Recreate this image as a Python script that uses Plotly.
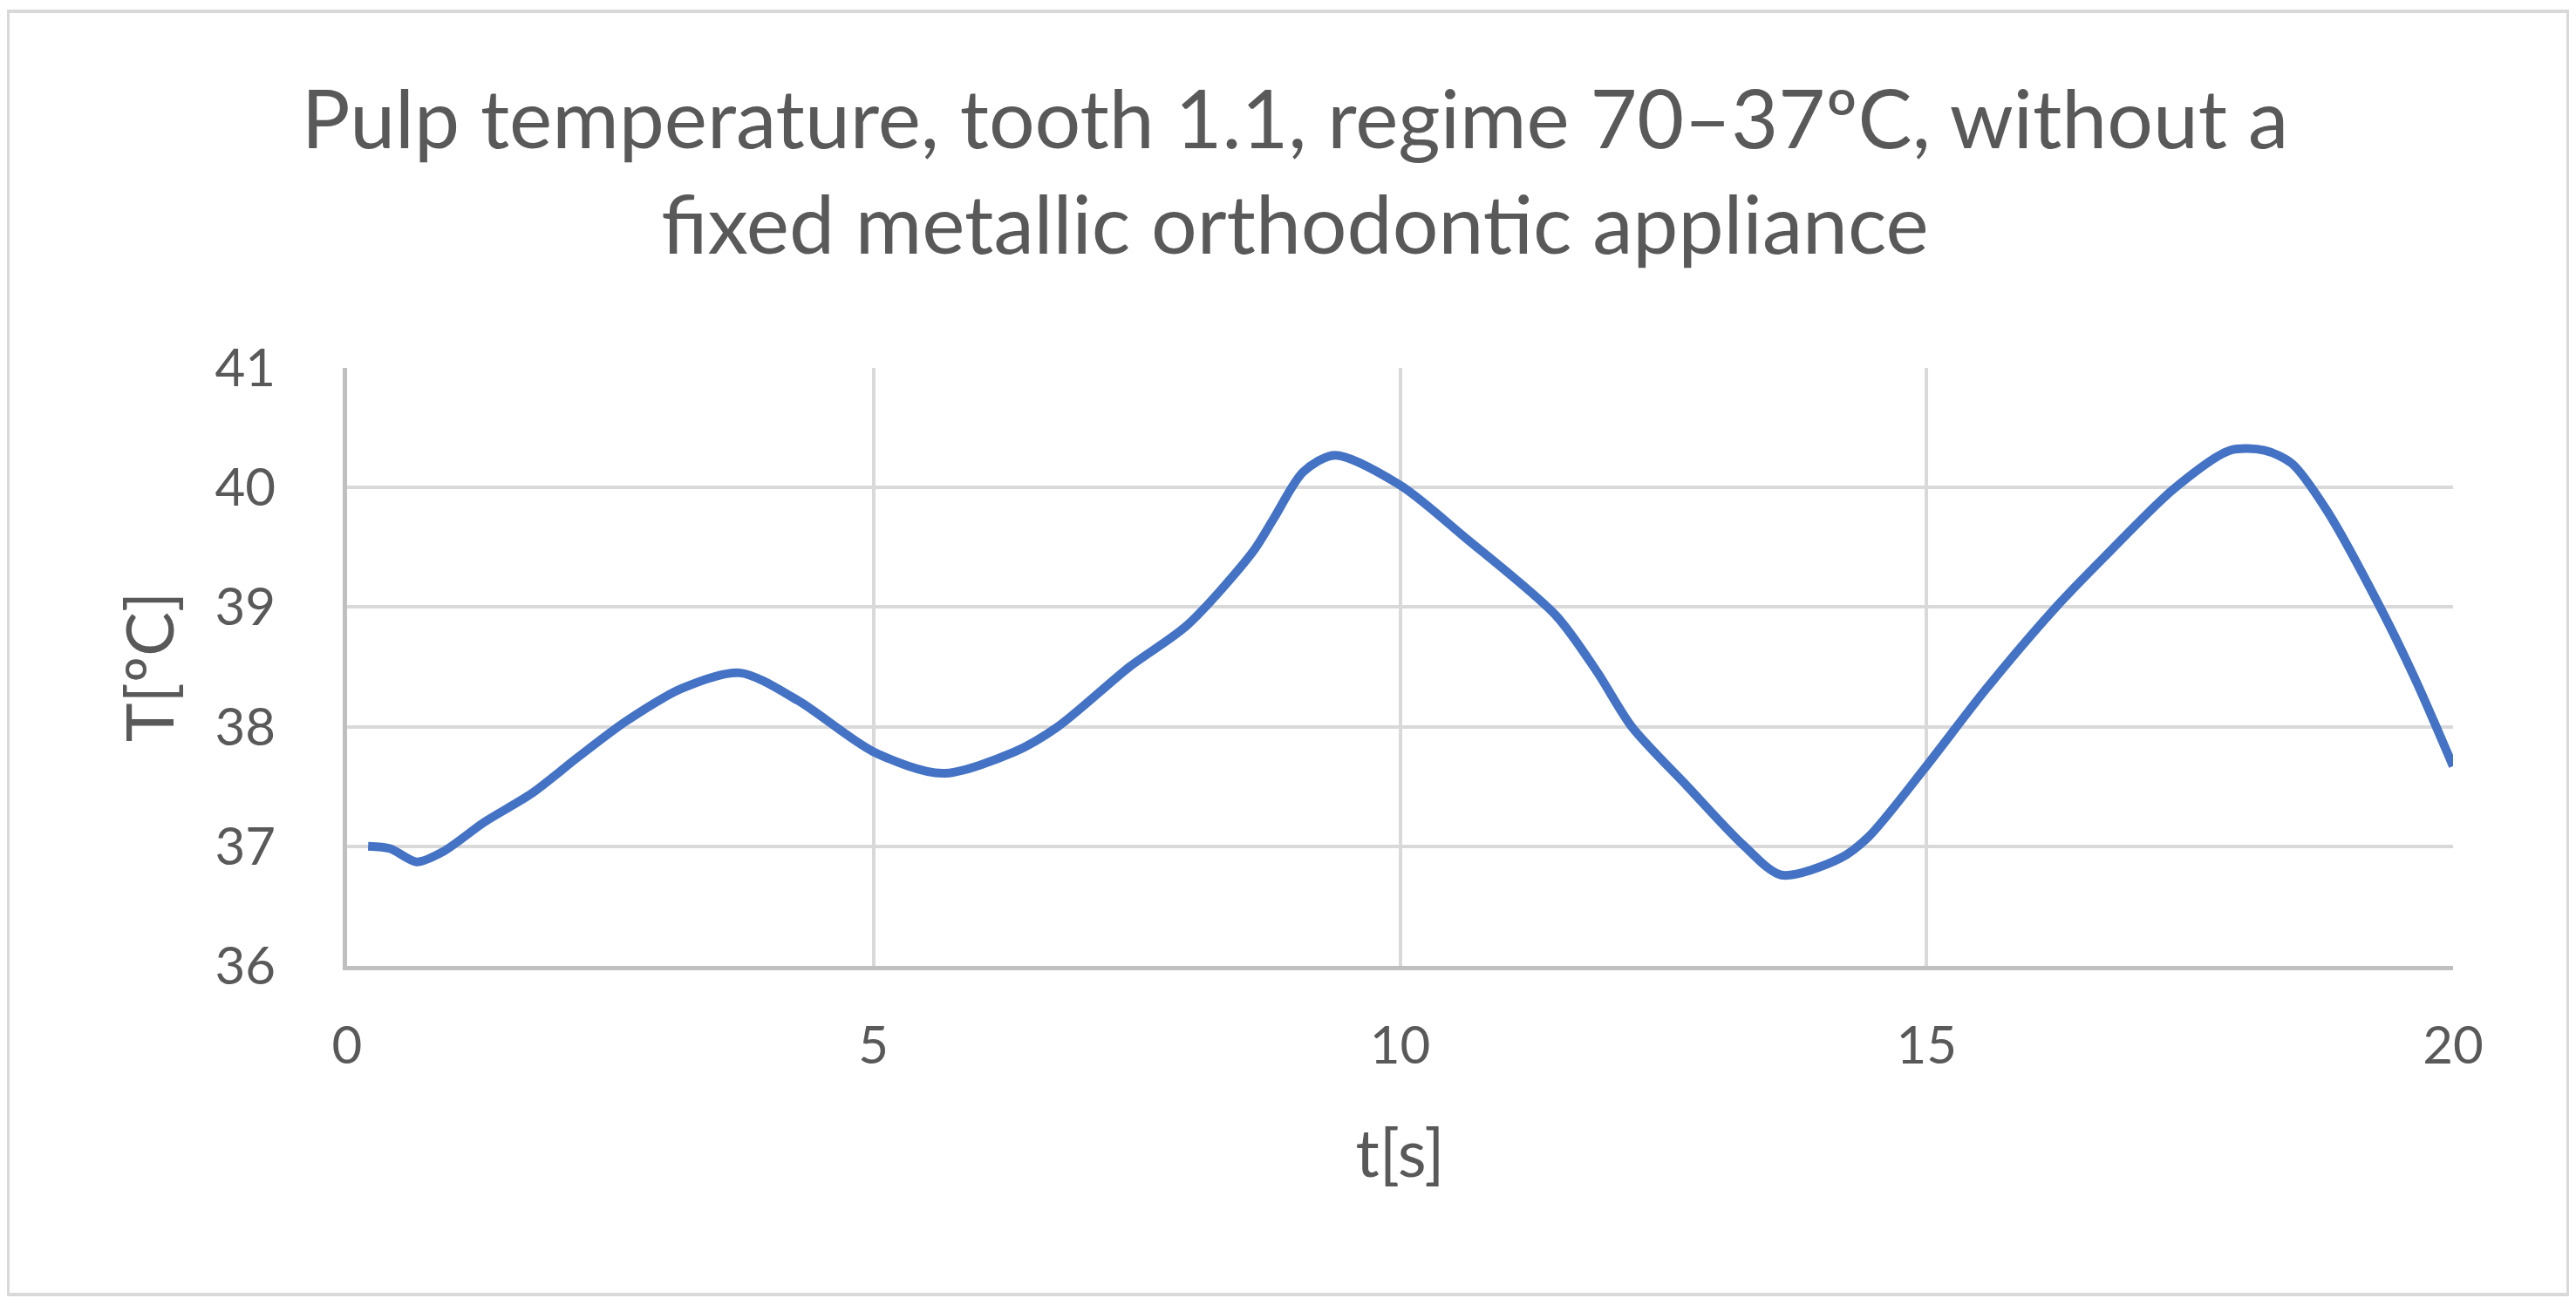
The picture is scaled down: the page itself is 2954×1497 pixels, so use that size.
import plotly.graph_objects as go

# time [s] and pulp temperature [ºC]
t_s = [0.2, 0.41, 0.66, 0.92, 1.3, 1.75, 2.2, 2.64, 3.18, 3.73, 4.28, 5.0, 5.65,
       6.34, 6.75, 7.43, 7.98, 8.6, 8.8, 9.08, 9.38, 10.0, 10.62, 11.48, 11.87,
       12.2, 12.73, 13.26, 13.62, 14.18, 14.45, 14.98, 15.57, 16.23, 16.69,
       17.35, 17.88, 18.21, 18.47, 18.8, 19.33, 19.66, 20.0]
temp_c = [37.0, 36.98, 36.87, 36.96, 37.2, 37.44, 37.75, 38.04, 38.32, 38.45,
          38.22, 37.79, 37.61, 37.79, 38.0, 38.5, 38.85, 39.46, 39.74, 40.13,
          40.27, 40.02, 39.58, 38.93, 38.46, 38.0, 37.5, 37.01, 36.76, 36.9,
          37.08, 37.65, 38.32, 39.0, 39.42, 39.99, 40.31, 40.31, 40.2, 39.81,
          38.96, 38.36, 37.67]

x_ticks = [0, 5, 10, 15, 20]
y_ticks = [36, 37, 38, 39, 40, 41]

FONT = "Lato"
GREY = "#595959"

W, H = 2954, 1497
OFF = 8  # page body margin pushes the plot div down/right
L, R, T, B = 398 - OFF, 141 + OFF, 422 - OFF, 389 + OFF

fig = go.Figure()
fig.add_trace(go.Scatter(x=t_s, y=temp_c, mode="lines",
                         line=dict(color="#4472C4", width=10, shape="spline", smoothing=0.8),
                         showlegend=False))

# outer chart border (paper coords extend past the plot area)
pw, ph = W - L - R, H - T - B
fig.add_shape(type="rect", xref="paper", yref="paper",
              x0=(9 - OFF - L) / pw, x1=(2945 - OFF - L) / pw,
              y0=(H - B - (1485 - OFF)) / ph, y1=(H - B - (13 - OFF)) / ph,
              line=dict(color="#d9d9d9", width=4), fillcolor="rgba(0,0,0,0)", layer="below")

fig.update_layout(
    width=W, height=H,
    margin=dict(l=L, r=R, t=T, b=B),
    paper_bgcolor="white", plot_bgcolor="white",
    font=dict(family=FONT, color=GREY),
    title=dict(text="Pulp temperature, tooth 1.1, regime 70–37ºC, without a<br>fixed metallic orthodontic appliance",
               x=0.5, xanchor="center", xref="container",
               y=1 - 162 / H, yanchor="middle", yref="container",
               font=dict(family=FONT, size=93, color=GREY)),
)
fig.update_xaxes(range=[0, 20], tickvals=x_ticks, showgrid=True, gridcolor="#d9d9d9", gridwidth=3.5,
                 zeroline=False, showline=True, linecolor="#bfbfbf", linewidth=5,
                 tickfont=dict(size=60, color=GREY), ticklabelstandoff=35,
                 title=dict(text="t[s]", font=dict(size=76, color=GREY), standoff=66))
fig.update_yaxes(range=[36, 41], tickvals=y_ticks, showgrid=True, gridcolor="#d9d9d9", gridwidth=3.5,
                 zeroline=False, showline=True, linecolor="#bfbfbf", linewidth=5,
                 tickfont=dict(size=60, color=GREY), ticklabelstandoff=65,
                 title=dict(text="T[ºC]", font=dict(size=76, color=GREY), standoff=23))

fig.write_html("out.html")
